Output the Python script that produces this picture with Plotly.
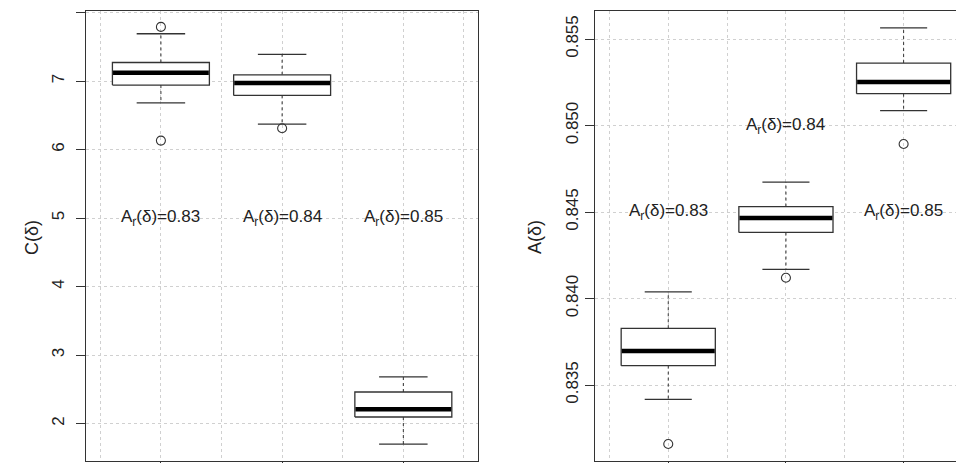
import plotly.graph_objects as go

# ---------------- data ----------------
positions = [1, 2, 3]
ar_labels = ["0.83", "0.84", "0.85"]

# Left panel: C(delta)
C_lo = [6.68, 6.37, 1.70]
C_q1 = [6.94, 6.79, 2.095]
C_med = [7.12, 6.97, 2.21]
C_q3 = [7.27, 7.09, 2.46]
C_hi = [7.69, 7.39, 2.68]
C_out = [[7.79, 6.13], [6.31], []]
C_label_y = [5, 5, 5]

# Right panel: A(delta)
A_lo = [0.83417, 0.84169, 0.85086]
A_q1 = [0.83612, 0.84382, 0.85184]
A_med = [0.83697, 0.84465, 0.85251]
A_q3 = [0.83828, 0.84531, 0.85361]
A_hi = [0.84039, 0.84673, 0.85565]
A_out = [[0.83159], [0.8412], [0.84893]]
A_label_y = [0.845, 0.850, 0.845]

C_ticks = [2, 3, 4, 5, 6, 7, 8]
A_ticks = [0.835, 0.840, 0.845, 0.850, 0.855]
A_ticktext = ["0.835", "0.840", "0.845", "0.850", "0.855"]

# ---------------- style ----------------
W, H = 964, 463
OFF = 8  # page body margin of the html output
BOX_HALF = 0.4
CAP_HALF = 0.2
EDGE = "#333333"
TEXT = "#222222"
GRID = "#d0d0d0"
FONT = "Liberation Sans, Arial, sans-serif"


def px_x(sx):
    return (sx - OFF) / W


def px_y(sy):
    return (H - (sy - OFF)) / H


fig = go.Figure()


def add_panel(xa, ya, lo, q1, med, q3, hi, outs):
    for p, l, a, m, b, h, o in zip(positions, lo, q1, med, q3, hi, outs):
        fig.add_trace(go.Scatter(x=[p, p, None, p, p], y=[b, h, None, a, l], mode="lines",
                                 line=dict(color=EDGE, width=1, dash="3px,3px"),
                                 xaxis=xa, yaxis=ya, hoverinfo="skip", showlegend=False))
        fig.add_trace(go.Scatter(x=[p - CAP_HALF, p + CAP_HALF, None, p - CAP_HALF, p + CAP_HALF],
                                 y=[h, h, None, l, l], mode="lines",
                                 line=dict(color=EDGE, width=1.3),
                                 xaxis=xa, yaxis=ya, hoverinfo="skip", showlegend=False))
        fig.add_trace(go.Scatter(x=[p - BOX_HALF, p + BOX_HALF, p + BOX_HALF, p - BOX_HALF, p - BOX_HALF],
                                 y=[a, a, b, b, a], mode="lines", fill="toself", fillcolor="white",
                                 line=dict(color=EDGE, width=1.3),
                                 xaxis=xa, yaxis=ya, hoverinfo="skip", showlegend=False))
        fig.add_trace(go.Scatter(x=[p - BOX_HALF + 0.005, p + BOX_HALF - 0.005], y=[m, m], mode="lines",
                                 line=dict(color="black", width=4.5),
                                 xaxis=xa, yaxis=ya, hoverinfo="skip", showlegend=False))
        if o:
            fig.add_trace(go.Scatter(x=[p] * len(o), y=o, mode="markers",
                                     marker=dict(symbol="circle-open", size=9, color=EDGE,
                                                 line=dict(width=1.1, color=EDGE)),
                                     xaxis=xa, yaxis=ya, hoverinfo="skip", showlegend=False))


add_panel("x", "y", C_lo, C_q1, C_med, C_q3, C_hi, C_out)
add_panel("x2", "y2", A_lo, A_q1, A_med, A_q3, A_hi, A_out)

annotations = []
for p, lab, yv in zip(positions, ar_labels, C_label_y):
    annotations.append(dict(x=p, y=yv, xref="x", yref="y", text="A<sub>r</sub>(δ)=" + lab,
                            showarrow=False, font=dict(family=FONT, size=17, color=TEXT)))
for p, lab, yv in zip(positions, ar_labels, A_label_y):
    annotations.append(dict(x=p, y=yv, xref="x2", yref="y2", text="A<sub>r</sub>(δ)=" + lab,
                            showarrow=False, font=dict(family=FONT, size=17, color=TEXT)))
annotations.append(dict(x=px_x(20), y=px_y(238), xref="paper", yref="paper", text="C(δ)", textangle=-90,
                        showarrow=False, font=dict(family=FONT, size=18, color=TEXT)))
annotations.append(dict(x=px_x(535), y=px_y(237), xref="paper", yref="paper", text="A(δ)", textangle=-90,
                        showarrow=False, font=dict(family=FONT, size=18, color=TEXT)))

xcommon = dict(tickmode="array", tickvals=positions, showticklabels=False, ticks="outside",
               ticklen=8, tickcolor=EDGE, showline=True, linecolor=EDGE, linewidth=1.3,
               showgrid=True, gridcolor=GRID, griddash="3px,3px", gridwidth=1, zeroline=False,
               minor=dict(tickvals=[0.5, 1.5, 2.5, 3.5], showgrid=True, gridcolor=GRID,
                          griddash="3px,3px", gridwidth=1, ticks=""),
               automargin=False)
ycommon = dict(tickangle=-90, ticks="outside", ticklen=9, tickcolor=EDGE, showline=True,
               linecolor=EDGE, linewidth=1.3, showgrid=True, gridcolor=GRID, griddash="dot",
               gridwidth=1, zeroline=False, tickfont=dict(family=FONT, size=17, color=TEXT),
               automargin=False)

fig.update_layout(
    width=W, height=H,
    margin=dict(l=0, r=0, t=0, b=0),
    paper_bgcolor="white", plot_bgcolor="white",
    xaxis=dict(domain=[px_x(86), px_x(478)], range=[0.382, 3.616], mirror=True, anchor="y", **xcommon),
    yaxis=dict(domain=[px_y(461), px_y(11)], range=[1.453, 8.022], tickvals=C_ticks, mirror=True,
               anchor="x", ticklabelstandoff=5, **ycommon),
    xaxis2=dict(domain=[px_x(595), 1.0], range=[0.3776, 3.581], mirror=True, anchor="y2", **xcommon),
    yaxis2=dict(domain=[px_y(461), px_y(11)], range=[0.83061, 0.85662], tickvals=A_ticks,
                ticktext=A_ticktext, mirror=False, anchor="x2", **ycommon),
    annotations=annotations,
    showlegend=False,
)

fig.write_html("out.html")
